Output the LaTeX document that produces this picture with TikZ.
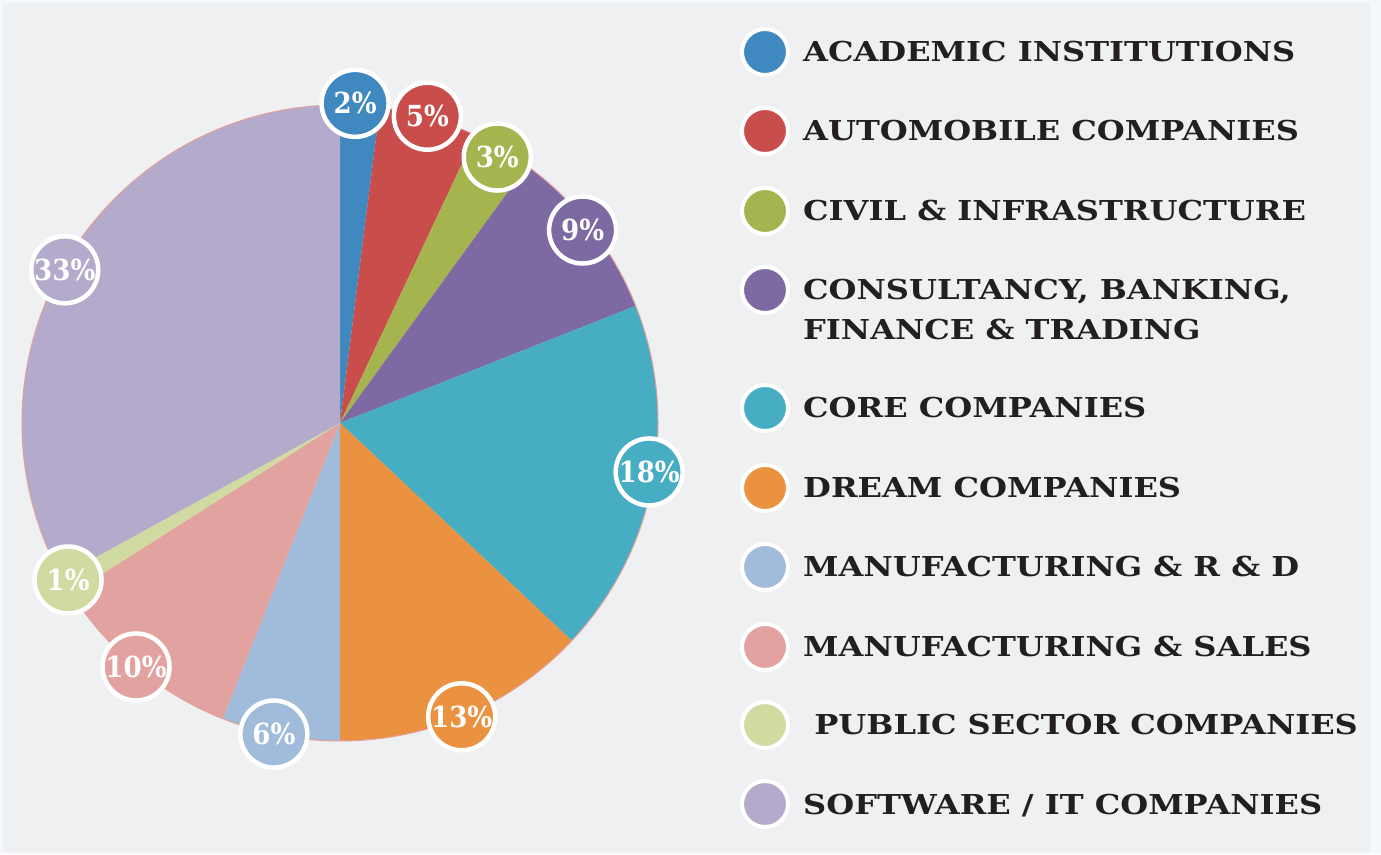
\documentclass[tikz,border=0pt]{standalone}
\usepackage{fontspec}
\setmainfont{DejaVu Serif}
\newfontfamily\legfont[FakeStretch=1.17]{DejaVu Serif}
\newfontfamily\pctfont[FakeStretch=0.9]{DejaVu Serif}
\usetikzlibrary{positioning}

\definecolor{pageblue}{HTML}{F4F8FB}
\definecolor{panel}{HTML}{EFF0F2}
\definecolor{ink}{HTML}{231F20}
\definecolor{rim}{HTML}{E39F9B}
\definecolor{acad}{HTML}{3F88C0}
\definecolor{autom}{HTML}{C84D4B}
\definecolor{civil}{HTML}{A5B44E}
\definecolor{consult}{HTML}{7E6AA3}
\definecolor{core}{HTML}{47ADC2}
\definecolor{dream}{HTML}{EA923F}
\definecolor{mfgrd}{HTML}{A1BCDB}
\definecolor{mfgsales}{HTML}{E2A3A0}
\definecolor{psu}{HTML}{D1DAA1}
\definecolor{soft}{HTML}{B4AACB}

\begin{document}
\begin{tikzpicture}[%
    x=1pt, y=1pt,
    pct/.style={circle, draw=white, line width=4.5pt, minimum size=67pt,
      inner sep=0pt, text=white, font=\pctfont\bfseries\fontsize{29}{29}\selectfont},
    legdot/.style={circle, draw=white, line width=4pt, minimum size=46pt, inner sep=0pt},
    legfont/.style={inner sep=0pt, text=ink, font=\legfont\bfseries\fontsize{27.4}{40}\selectfont},
    legtext/.style={legfont, anchor=west, text height=20pt, text depth=0pt},
    legtwo/.style={legfont, anchor=north west, align=left},
    node distance=13pt,
  ]
    % background
    \fill[pageblue] (0,0) rectangle (1381,854);
    \fill[panel] (3,2) rectangle (1370,851);
    \useasboundingbox (0,0) rectangle (1381,854);

    % pie
    \coordinate (c) at (340,431);
    \fill[acad]     (c) -- ++(90:318)     arc[start angle=90,     end angle=82.8,   radius=318] -- cycle;
    \fill[autom]    (c) -- ++(82.8:318)   arc[start angle=82.8,   end angle=64.8,   radius=318] -- cycle;
    \fill[civil]    (c) -- ++(64.8:318)   arc[start angle=64.8,   end angle=54,     radius=318] -- cycle;
    \fill[consult]  (c) -- ++(54:318)     arc[start angle=54,     end angle=21.6,   radius=318] -- cycle;
    \fill[core]     (c) -- ++(21.6:318)   arc[start angle=21.6,   end angle=-43.2,  radius=318] -- cycle;
    \fill[dream]    (c) -- ++(-43.2:318)  arc[start angle=-43.2,  end angle=-90,    radius=318] -- cycle;
    \fill[mfgrd]    (c) -- ++(-90:318)    arc[start angle=-90,    end angle=-111.6, radius=318] -- cycle;
    \fill[mfgsales] (c) -- ++(-111.6:318) arc[start angle=-111.6, end angle=-147.6, radius=318] -- cycle;
    \fill[psu]      (c) -- ++(-147.6:318) arc[start angle=-147.6, end angle=-151.2, radius=318] -- cycle;
    \fill[soft]     (c) -- ++(-151.2:318) arc[start angle=-151.2, end angle=-270,   radius=318] -- cycle;
    \draw[rim, line width=1pt] (c) circle[radius=318];

    % percentages
    \node[pct, fill=acad]     (p2)  at ([shift={(87.3:320)}]c)  {2\%};
    \node[pct, fill=autom]    (p5)  at ([shift={(74.1:319)}]c)  {5\%};
    \node[pct, fill=civil]    (p3)  at ([shift={(59.4:309)}]c)  {3\%};
    \node[pct, fill=consult]  (p9)  at ([shift={(38.5:310)}]c)  {9\%};
    \node[pct, fill=core]     (p18) at ([shift={(-9:313)}]c)    {18\%};
    \node[pct, fill=dream]    (p13) at ([shift={(-67.5:318)}]c) {13\%};
    \node[pct, fill=mfgrd]    (p6)  at ([shift={(-102:318)}]c)  {6\%};
    \node[pct, fill=mfgsales] (p10) at ([shift={(-129.9:318)}]c) {10\%};
    \node[pct, fill=psu]      (p1)  at ([shift={(-150:314)}]c)  {1\%};
    \node[pct, fill=soft]     (p33) at ([shift={(150.9:315)}]c) {33\%};

    % legend
    \node[legdot, fill=acad]     (d1)  at (765,802) {};
    \node[legdot, fill=autom]    (d2)  at (765,723) {};
    \node[legdot, fill=civil]    (d3)  at (765,643) {};
    \node[legdot, fill=consult]  (d4)  at (765,564) {};
    \node[legdot, fill=core]     (d5)  at (765,446) {};
    \node[legdot, fill=dream]    (d6)  at (765,366) {};
    \node[legdot, fill=mfgrd]    (d7)  at (765,287) {};
    \node[legdot, fill=mfgsales] (d8)  at (765,207) {};
    \node[legdot, fill=psu]      (d9)  at (765,129) {};
    \node[legdot, fill=soft]     (d10) at (765,50)  {};

    \node[legtext, right=of d1]  (t1)  {ACADEMIC INSTITUTIONS};
    \node[legtext, right=of d2]  (t2)  {AUTOMOBILE COMPANIES};
    \node[legtext, right=of d3]  (t3)  {CIVIL \& INFRASTRUCTURE};
    \node[legtwo] (t4) at ([xshift=13pt, yshift=11pt]d4.east)
      {CONSULTANCY, BANKING,\\FINANCE \& TRADING};
    \node[legtext, right=of d5]  (t5)  {CORE COMPANIES};
    \node[legtext, right=of d6]  (t6)  {DREAM COMPANIES};
    \node[legtext, right=of d7]  (t7)  {MANUFACTURING \& R \& D};
    \node[legtext, right=of d8]  (t8)  {MANUFACTURING \& SALES};
    \node[legtext, right=of d9]  (t9)  {\ PUBLIC SECTOR COMPANIES};
    \node[legtext, right=of d10] (t10) {SOFTWARE / IT COMPANIES};
  \end{tikzpicture}
\end{document}
